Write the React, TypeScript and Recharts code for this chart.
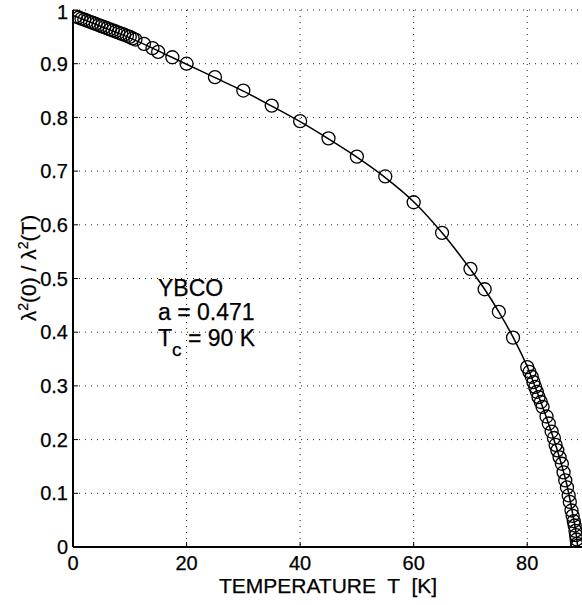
import React from "react"
import { ComposedChart, Scatter, Line, XAxis, YAxis, CartesianGrid, Customized } from "recharts"

// measured points (circles)
const circleT = [
  0.5, 1, 1.5, 2, 2.5, 3, 3.5, 4, 4.5, 5, 5.5, 6, 6.5, 7, 7.5, 8, 8.5, 9, 9.5, 10, 10.5, 11,
  12.5, 14, 15, 17.5, 20, 25, 30, 35, 40, 45, 50, 55, 60, 65, 70, 72.5, 75, 77.5,
  80, 80.4, 80.8, 81.1, 81.4, 81.7, 82, 82.4, 82.7,
  83.4, 83.8, 84.3, 84.7, 85, 85.3, 85.7, 86.1, 86.4, 86.7, 87, 87.3, 87.5, 87.8,
  88, 88.2, 88.35, 88.5, 88.6, 88.7, 88.8, 88.85,
]
const circleV = [
  0.988, 0.986, 0.984, 0.982, 0.98, 0.978, 0.976, 0.974, 0.972, 0.97, 0.968, 0.966, 0.964, 0.962, 0.96, 0.958,
  0.956, 0.954, 0.952, 0.95, 0.947, 0.945,
  0.937, 0.929, 0.922, 0.912, 0.9, 0.875, 0.85, 0.822, 0.793, 0.761, 0.727, 0.69, 0.642, 0.585, 0.518, 0.48,
  0.438, 0.39,
  0.335, 0.326, 0.317, 0.307, 0.298, 0.289, 0.279, 0.27, 0.261,
  0.243, 0.23, 0.215, 0.203, 0.19, 0.18, 0.167, 0.155, 0.139, 0.124, 0.111, 0.096, 0.084, 0.068,
  0.058, 0.048, 0.04, 0.03, 0.022, 0.014, 0.006, 0.002,
]

// fitted curve (solid line)
const fitT = [0, 5, 10, 15, 20, 25, 30, 35, 40, 45, 50, 55, 60, 65, 70, 72.5, 75, 77.5, 80, 82, 84, 86, 87, 88, 88.5, 88.9]
const fitV = [
  0.99, 0.969, 0.948, 0.924, 0.899, 0.874, 0.849, 0.821, 0.792, 0.76, 0.726, 0.688, 0.643, 0.585, 0.517, 0.48,
  0.438, 0.391, 0.336, 0.281, 0.222, 0.155, 0.115, 0.062, 0.033, 0,
]

const xTicks = [0, 20, 40, 60, 80]
const yTicks = [0, 0.1, 0.2, 0.3, 0.4, 0.5, 0.6, 0.7, 0.8, 0.9, 1]

const circles = circleT.map((T, i) => ({ T, v: circleV[i] }))
const fit = fitT.map((T, i) => ({ T, v: fitV[i] }))

const FONT = "'Liberation Sans', Arial, Helvetica, sans-serif"
const tickStyle = { fontSize: 20, fill: "#000", fontFamily: FONT, stroke: "#000", strokeWidth: 0.25 }

const Circle = (props: any) => (
  <circle cx={props.cx} cy={props.cy} r={6.5} fill="none" stroke="#000" strokeWidth={1.3} />
)

const Labels = () => (
  <g fontFamily={FONT} fill="#000" stroke="#000" strokeWidth={0.25}>
    <text x={328} y={593} fontSize={21} textAnchor="middle" style={{ whiteSpace: "pre" }}>
      {"TEMPERATURE  T  [K]"}
    </text>
    <text x={36} y={268} fontSize={21} textAnchor="middle" transform="rotate(-90 36 268)">
      λ<tspan dy={-8} fontSize={14}>2</tspan>
      <tspan dy={8}>(0) / λ</tspan>
      <tspan dy={-8} fontSize={14}>2</tspan>
      <tspan dy={8}>(T)</tspan>
    </text>
    <text x={158} y={296} fontSize={23}>YBCO</text>
    <text x={158} y={320} fontSize={23}>a = 0.471</text>
    <text x={158} y={346} fontSize={23}>
      T<tspan dy={10} fontSize={19}>c</tspan>
      <tspan dy={-10}> = 90 K</tspan>
    </text>
  </g>
)

export default function App() {
  return (
    <div style={{ position: "absolute", left: 0, top: 0, width: 582, height: 605, overflow: "hidden", background: "#fff" }}>
      <ComposedChart width={600} height={605} margin={{ top: 10, right: 16, bottom: 0, left: 0 }}>
        <CartesianGrid stroke="#222" strokeDasharray="1 5" strokeWidth={1} />
        <XAxis
          dataKey="T"
          type="number"
          domain={[0, 90]}
          ticks={xTicks}
          allowDataOverflow
          height={58}
          tickSize={-5}
          tickMargin={14}
          tick={tickStyle}
          axisLine={{ stroke: "#000", strokeWidth: 2 }}
          tickLine={{ stroke: "#000", strokeWidth: 1 }}
        />
        <XAxis
          xAxisId="top"
          orientation="top"
          type="number"
          domain={[0, 90]}
          ticks={xTicks}
          allowDataOverflow
          height={0}
          tickSize={-5}
          tick={false}
          axisLine={{ stroke: "#555", strokeWidth: 1.5 }}
          tickLine={{ stroke: "#000", strokeWidth: 1 }}
        />
        <YAxis
          dataKey="v"
          type="number"
          domain={[0, 1]}
          ticks={yTicks}
          allowDataOverflow
          width={73}
          tickSize={-5}
          tickMargin={10}
          tick={tickStyle}
          axisLine={{ stroke: "#000", strokeWidth: 2 }}
          tickLine={{ stroke: "#000", strokeWidth: 1 }}
        />
        <YAxis
          yAxisId="right"
          orientation="right"
          type="number"
          domain={[0, 1]}
          ticks={yTicks}
          allowDataOverflow
          width={0}
          tickSize={-5}
          tick={false}
          axisLine={{ stroke: "#555", strokeWidth: 1.5 }}
          tickLine={{ stroke: "#000", strokeWidth: 1 }}
        />
        <Line
          data={fit}
          dataKey="v"
          type="monotone"
          stroke="#000"
          strokeWidth={1.5}
          dot={false}
          activeDot={false}
          isAnimationActive={false}
        />
        <Scatter data={circles} dataKey="v" shape={Circle} isAnimationActive={false} />
        <Customized component={Labels} />
      </ComposedChart>
    </div>
  )
}
